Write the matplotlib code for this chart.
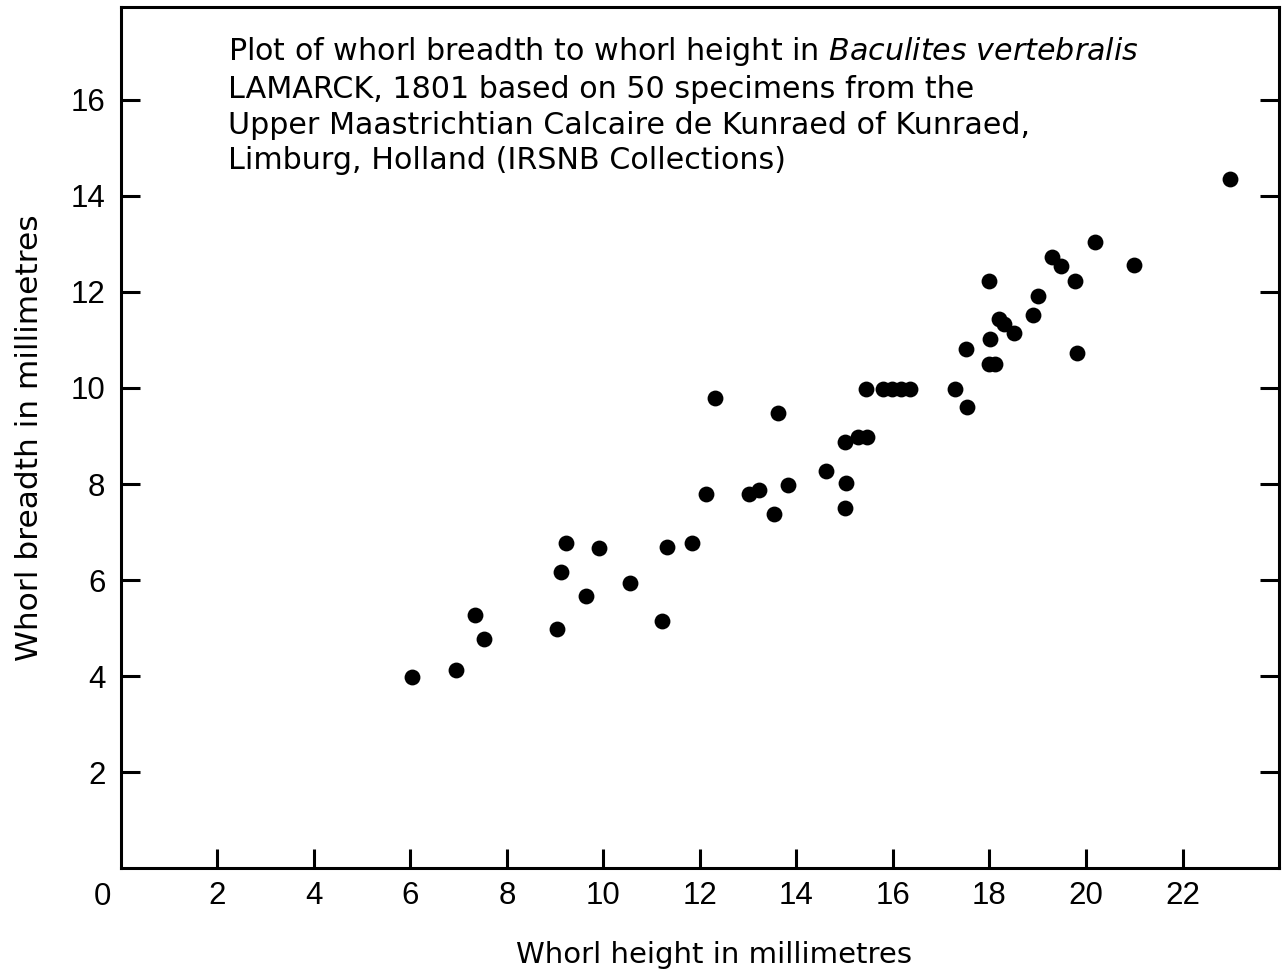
import numpy as np
import matplotlib.pyplot as plt

plt.rcParams['font.family'] = ['Liberation Sans', 'DejaVu Sans']
plt.rcParams['mathtext.fontset'] = 'dejavusans'

# whorl height (x) and whorl breadth (y), mm
height = [6.04, 6.94, 7.34, 7.53, 9.03, 9.13, 9.23, 9.65, 9.90, 10.55,
          11.22, 11.32, 11.83, 12.13, 12.32, 13.01, 13.22, 13.53, 13.62, 13.82,
          14.62, 15.01, 15.02, 15.01, 15.27, 15.46, 15.44, 15.80, 15.99, 16.17,
          16.36, 17.29, 17.53, 17.52, 17.98, 18.12, 18.01, 18.20, 18.31, 18.50,
          18.00, 18.90, 19.01, 19.30, 19.49, 19.78, 19.81, 20.19, 21.00, 22.99]
breadth = [3.98, 4.12, 5.27, 4.77, 4.98, 6.17, 6.77, 5.66, 6.67, 5.93,
           5.15, 6.68, 6.78, 7.79, 9.79, 7.79, 7.88, 7.38, 9.48, 7.98,
           8.28, 7.50, 8.03, 8.88, 8.98, 8.98, 9.98, 9.98, 9.98, 9.98,
           9.98, 9.98, 9.61, 10.81, 10.50, 10.50, 11.02, 11.43, 11.33, 11.14,
           12.23, 11.52, 11.92, 12.72, 12.53, 12.23, 10.72, 13.03, 12.55, 14.35]

xticks = [2, 4, 6, 8, 10, 12, 14, 16, 18, 20, 22]
yticks = [2, 4, 6, 8, 10, 12, 14, 16]

title = ("Plot of whorl breadth to whorl height in $\\it{Baculites\\ vertebralis}$\n"
         "LAMARCK, 1801 based on 50 specimens from the\n"
         "Upper Maastrichtian Calcaire de Kunraed of Kunraed,\n"
         "Limburg, Holland (IRSNB Collections)")

fig = plt.figure(figsize=(12.86, 9.76), dpi=100)
ax = fig.add_axes([0.0939, 0.1103, 0.9007, 0.8825])

ax.scatter(height, breadth, s=130, color='black', zorder=3, linewidths=0)

ax.set_xlim(0, 24)
ax.set_ylim(0, 17.93)
ax.set_xticks(xticks)
ax.set_yticks(yticks)
for s in ax.spines.values():
    s.set_linewidth(2.2)
ax.tick_params(direction='in', length=14, width=2.2, labelsize=22.5, pad=9,
               right=True, top=False, labelright=False)
ax.tick_params(axis='y', pad=11)

ax.annotate('0', xy=(0, 0), xytext=(-13, -10), textcoords='offset points',
            ha='center', va='top', fontsize=22.5)

ax.set_xlabel('Whorl height in millimetres', fontsize=21, labelpad=22,
              family='DejaVu Sans')
ax.xaxis.set_label_coords(0.512, -0.084)
ax.set_ylabel('Whorl breadth in millimetres', fontsize=22.5, labelpad=19,
              family='DejaVu Sans')

ax.text(0.0926, 0.967, title, transform=ax.transAxes, ha='left', va='top',
        fontsize=21.7, linespacing=1.29, family='DejaVu Sans')

fig.savefig('out.png', dpi=100)
